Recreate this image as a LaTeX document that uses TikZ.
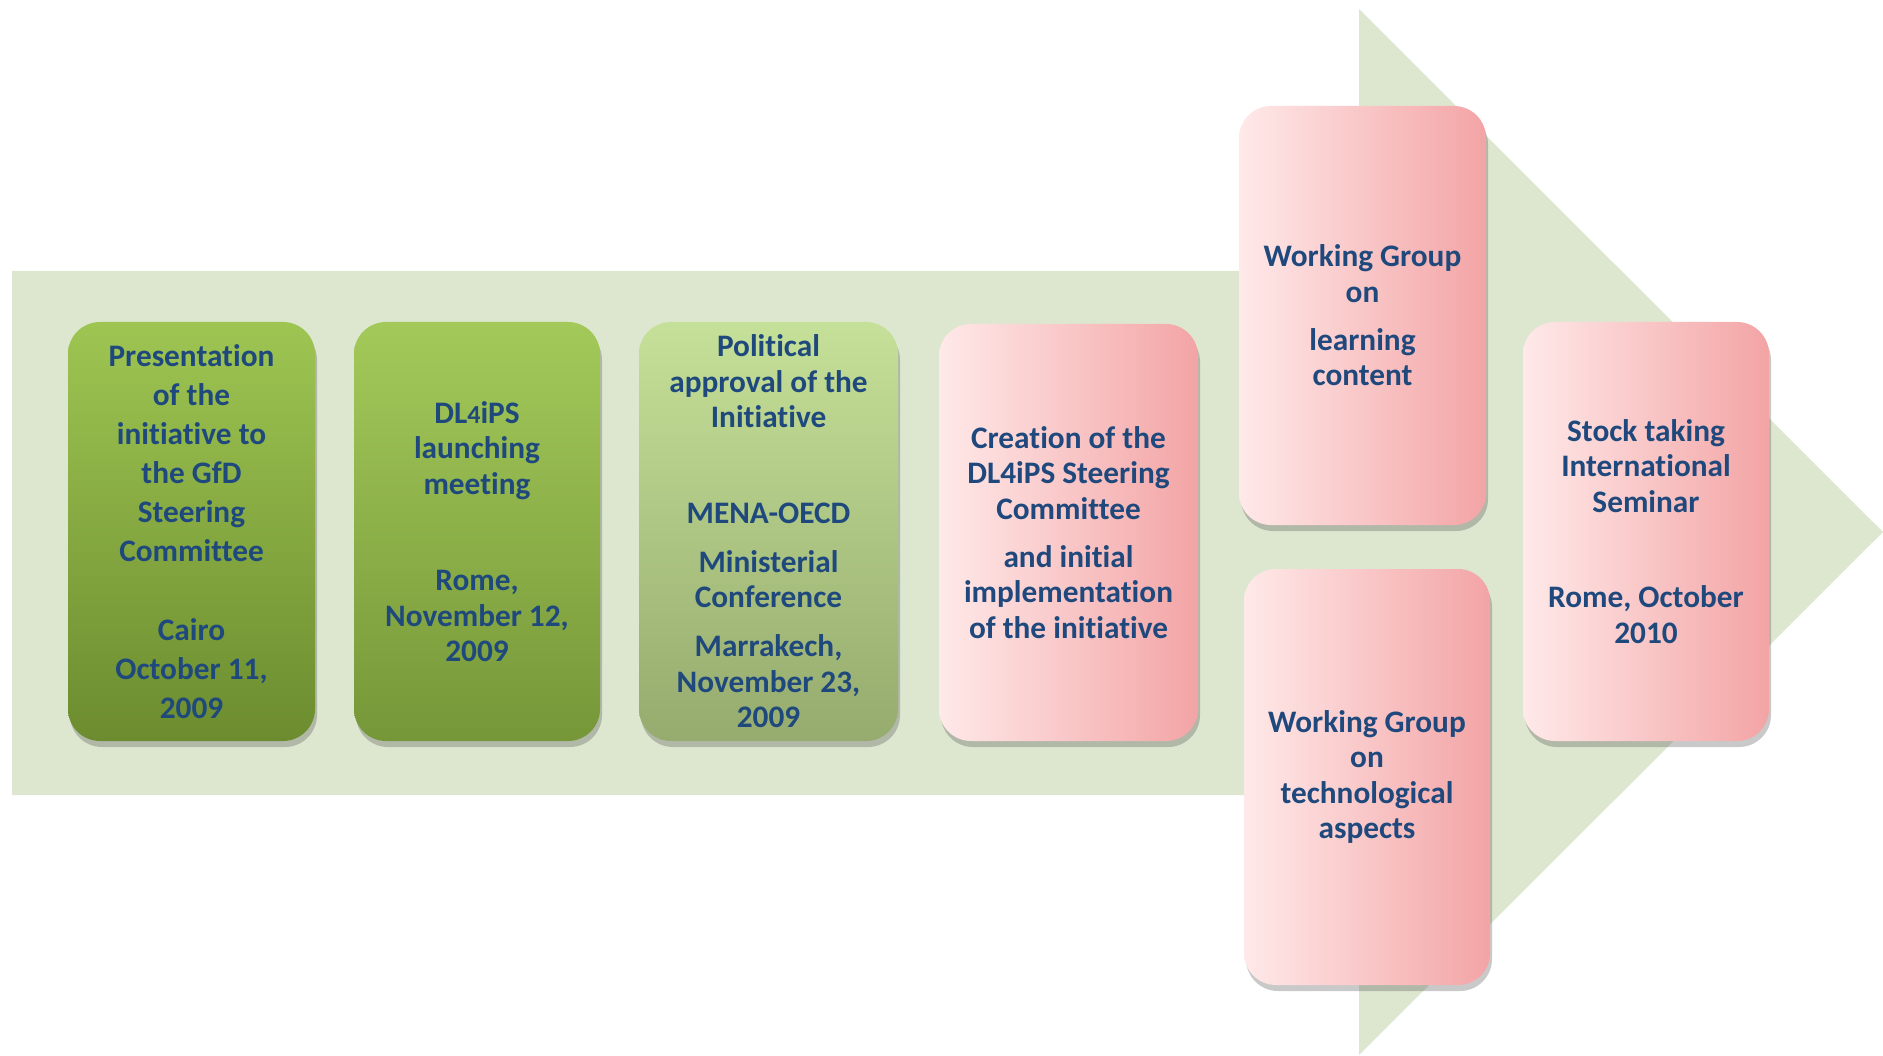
\documentclass[tikz,border=0pt]{standalone}
\usepackage{fontspec}
\setmainfont{Carlito}[Ligatures={NoCommon}]
\usetikzlibrary{shadows}
\definecolor{arrowgreen}{RGB}{221,231,208}
\definecolor{txtblue}{RGB}{31,73,125}
\definecolor{g1top}{RGB}{158,197,82}
\definecolor{g1bot}{RGB}{108,140,47}
\definecolor{g2top}{RGB}{163,201,90}
\definecolor{g2bot}{RGB}{118,151,56}
\definecolor{g3top}{RGB}{197,224,152}
\definecolor{g3bot}{RGB}{150,171,110}
\definecolor{pinkL}{RGB}{255,233,233}
\definecolor{pinkM}{RGB}{251,206,206}
\definecolor{pinkR}{RGB}{243,164,165}
\tikzset{
  card/.style={rounded corners=32pt, inner sep=0pt, align=center,
    minimum width=247pt, minimum height=419pt, text=txtblue,
    font=\bfseries\fontsize{31.3}{35.5}\selectfont,
    drop shadow={shadow xshift=2pt, shadow yshift=-6pt, opacity=0.3, fill=black!70}},
  greenA/.style={card, top color=g1top, bottom color=g1bot},
  greenB/.style={card, top color=g2top, bottom color=g2bot},
  greenC/.style={card, top color=g3top, bottom color=g3bot},
  pinkcard/.style={card, left color=pinkL, middle color=pinkM, right color=pinkR},
}
\begin{document}
\begin{tikzpicture}[x=1pt,y=-1pt]
\useasboundingbox (0,0) rectangle (1883,1056);
% big arrow
\fill[arrowgreen] (12,271) -- (1359,271) -- (1359,9) -- (1883,532) -- (1359,1055) -- (1359,795) -- (12,795) -- cycle;
% boxes
\node[greenA, font=\bfseries\fontsize{31.3}{39}\selectfont] (b1) at (191.5,531.5)
  {Presentation\\of the\\initiative to\\the GfD\\Steering\\Committee\\[40pt]Cairo\\October 11,\\2009};
\node[greenB, minimum width=246pt] (b2) at (477,531.5)
  {DL{\fontsize{26}{26}\selectfont 4}iPS\\launching\\meeting\\[61pt]Rome,\\November 12,\\2009};
\node[greenC, minimum width=259pt] (b3) at (768.5,531.5)
  {Political\\approval of the\\Initiative\\[60pt]MENA-OECD\\[13.5pt]Ministerial\\Conference\\[13.5pt]Marrakech,\\November 23,\\2009};
\node[pinkcard, minimum width=259pt, minimum height=417pt] (b4) at (1068.5,532.5)
  {Creation of the\\DL4iPS Steering\\Committee\\[12.5pt]and initial\\implementation\\of the initiative};
\node[pinkcard] (b5) at (1362.5,315.5)
  {Working Group\\on\\[12.5pt]learning\\content};
\node[pinkcard, minimum width=246pt, minimum height=416pt] (b6) at (1367,777)
  {Working Group\\on\\technological\\aspects};
\node[pinkcard, minimum width=246pt] (b7) at (1646,531.5)
  {Stock taking\\International\\Seminar\\[60pt]Rome, October\\2010};
\end{tikzpicture}
\end{document}
